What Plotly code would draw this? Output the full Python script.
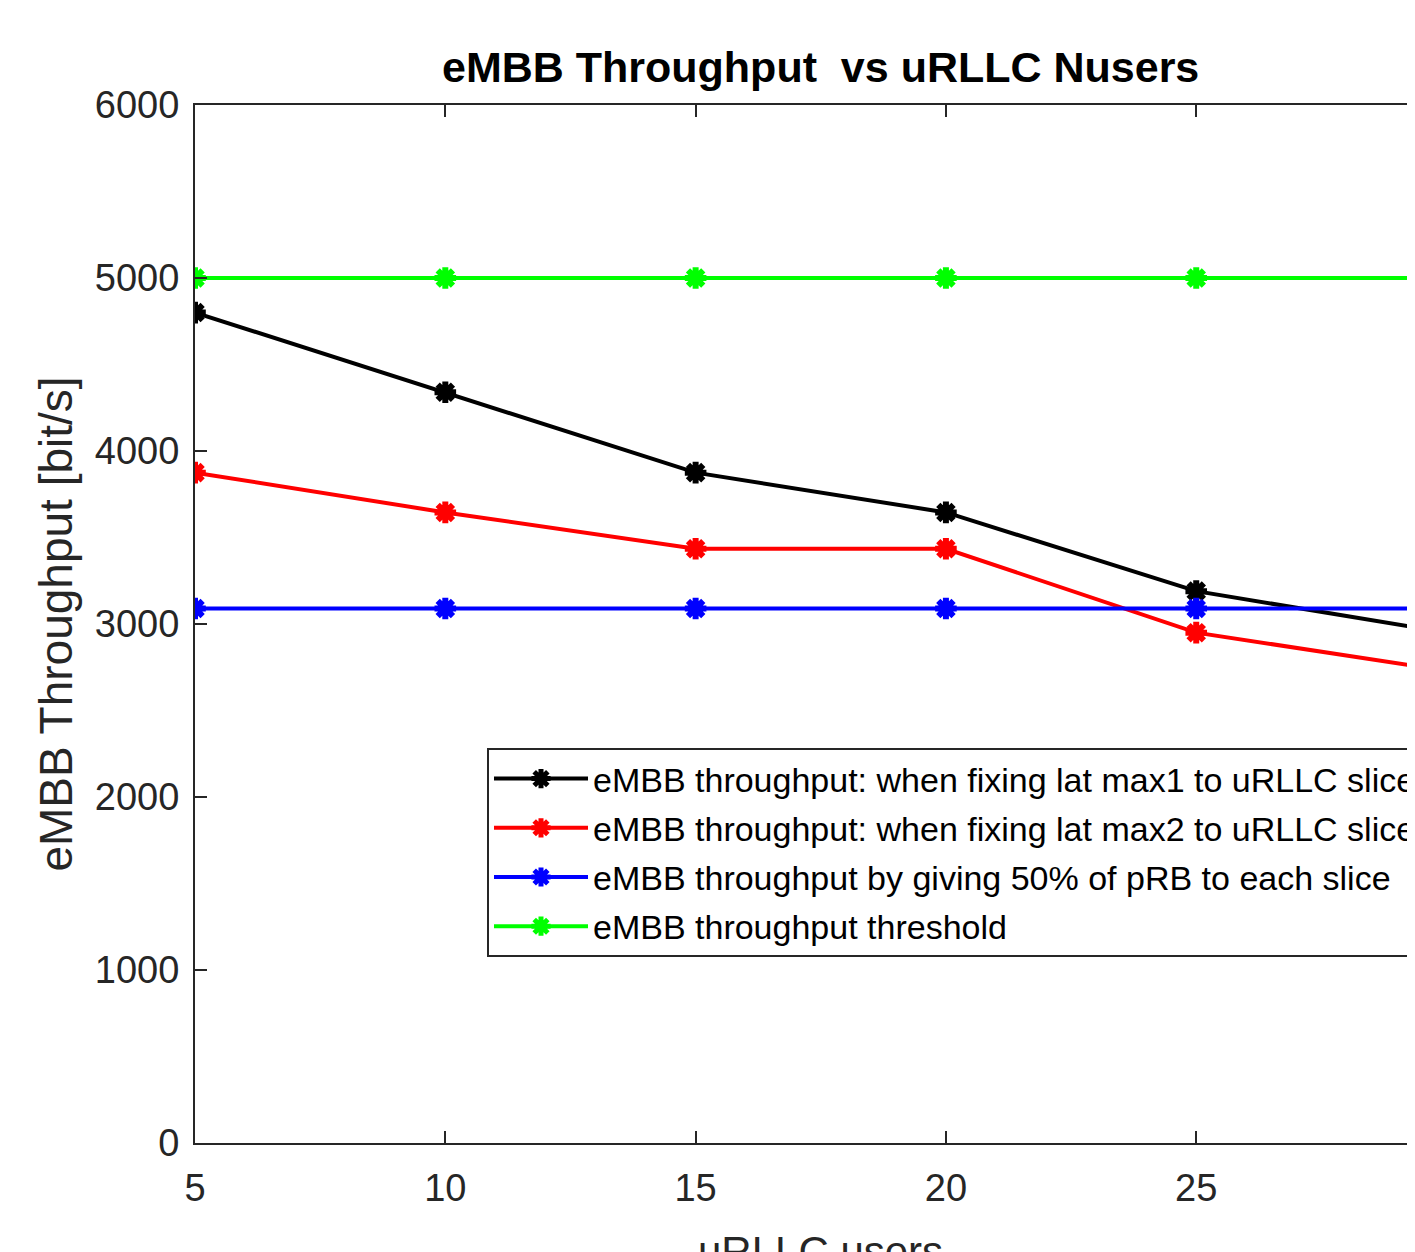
import plotly.graph_objects as go

users = [5, 10, 15, 20, 25, 30]
thr_latmax1 = [4800, 4340, 3875, 3645, 3190, 2950]
thr_latmax2 = [3875, 3645, 3435, 3435, 2950, 2730]
thr_half_prb = [3090, 3090, 3090, 3090, 3090, 3090]
thr_threshold = [5000, 5000, 5000, 5000, 5000, 5000]

names = [
    "eMBB throughput: when fixing lat max1 to uRLLC slice",
    "eMBB throughput: when fixing lat max2 to uRLLC slice",
    "eMBB throughput by giving 50% of pRB to each slice",
    "eMBB throughput threshold",
]
series = [thr_latmax1, thr_latmax2, thr_half_prb, thr_threshold]
colors = ["#000000", "#ff0000", "#0000ff", "#00ff00"]

FONT = "Liberation Sans, Arial, sans-serif"

fig = go.Figure()
for i, (nm, ys, c) in enumerate(zip(names, series, colors)):
    fig.add_trace(go.Scatter(
        x=users, y=ys, name=nm, mode="lines+markers",
        line=dict(color=c, width=4),
        marker=dict(symbol="asterisk-open", size=18, color=c, line=dict(color=c, width=6)),
        legendgroup=str(i),
    ))

axis_common = dict(
    showline=True, linecolor="#262626", linewidth=2,
    ticks="inside", ticklen=12, tickwidth=2, tickcolor="#262626",
    showgrid=False, zeroline=False,
    tickfont=dict(family=FONT, size=38, color="#262626"),
)

fig.update_layout(
    width=1407, height=1244,
    margin=dict(l=187, r=0, t=97, b=109, autoexpand=False),
    paper_bgcolor="white", plot_bgcolor="white",
    showlegend=True,
    legend=dict(
        x=(487 - 195) / 1220, y=(1143 - 748) / 1038, xanchor="left", yanchor="top",
        bgcolor="white", bordercolor="#262626", borderwidth=2,
        font=dict(family=FONT, size=34, color="#000000"),
        itemwidth=94, tracegroupgap=2,
    ),
    xaxis=dict(range=[5, 29.37], tickvals=[5, 10, 15, 20, 25, 30], ticklabelstandoff=10,
               mirror="ticks", **axis_common),
    yaxis=dict(range=[0, 6000], tickvals=[0, 1000, 2000, 3000, 4000, 5000, 6000],
               ticklabelstandoff=6, mirror=False,
               title=dict(text="eMBB Throughput [bit/s]", font=dict(family=FONT, size=46, color="#262626"), standoff=8),
               **axis_common),
    annotations=[
        dict(text="<b>eMBB Throughput  vs uRLLC Nusers</b>", x=17.5, xref="x", y=1, yref="paper",
             yanchor="bottom", yshift=12, showarrow=False,
             font=dict(family=FONT, size=43, color="#000000")),
        dict(text="uRLLC users", x=17.5, xref="x", y=0, yref="paper",
             yanchor="top", yshift=-83, showarrow=False,
             font=dict(family=FONT, size=42, color="#262626")),
    ],
)

fig.write_html("out.html")
